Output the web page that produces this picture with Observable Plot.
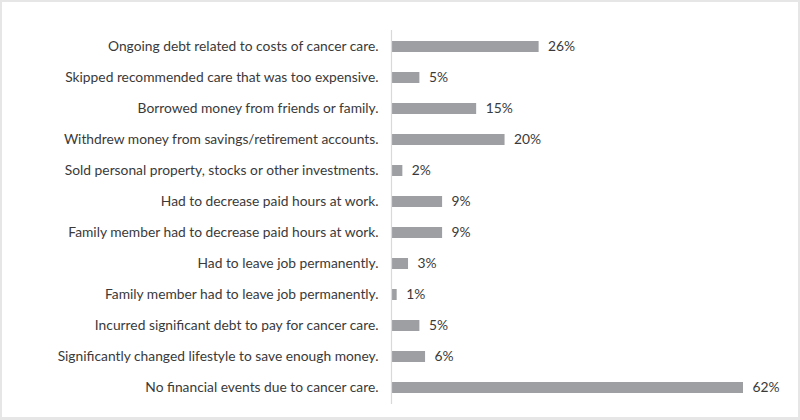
<!DOCTYPE html>
<html>
<head>
<meta charset="utf-8">
<script src="https://cdn.jsdelivr.net/npm/d3@7"></script>
<script src="https://cdn.jsdelivr.net/npm/@observablehq/plot@0.6"></script>
<style>
  html, body { margin: 0; padding: 0; background: #fff; }
  #wrap { position: relative; width: 800px; height: 420px; }
  #border { position: absolute; left: 0; top: 0; width: 800px; height: 420px; box-sizing: border-box; border: 2px solid #e6e6e6; border-bottom-width: 3px; pointer-events: none; }
</style>
</head>
<body>
<div id="wrap"><div id="border"></div></div>
<script>
const categories = [
  "Ongoing debt related to costs of cancer care.",
  "Skipped recommended care that was too expensive.",
  "Borrowed money from friends or family.",
  "Withdrew money from savings/retirement accounts.",
  "Sold personal property, stocks or other investments.",
  "Had to decrease paid hours at work.",
  "Family member had to decrease paid hours at work.",
  "Had to leave job permanently.",
  "Family member had to leave job permanently.",
  "Incurred significant debt to pay for cancer care.",
  "Significantly changed lifestyle to save enough money.",
  "No financial events due to cancer care."
];
const values = [26, 5, 15, 20, 2, 9, 9, 3, 1, 5, 6, 62];

const data = categories.map((c, i) => ({category: c, value: values[i]}));

const chart = Plot.plot({
  width: 800,
  height: 420,
  marginLeft: 391,
  marginRight: 57,
  marginTop: 30,
  marginBottom: 16,
  style: {fontFamily: "Lato, 'Open Sans', sans-serif", fontSize: "13.8px", color: "#3a3a3a", background: "transparent"},
  x: {domain: [0, 62], axis: null},
  y: {domain: categories, padding: 0, label: null},
  marks: [
    Plot.barX(data, {y: "category", x: "value", fill: "#9e9fa2", insetTop: 10, insetBottom: 10}),
    Plot.ruleX([0], {stroke: "#d9d9d9", strokeWidth: 1.2}),
    Plot.text(data, {y: "category", x: "value", text: d => d.value + "%", textAnchor: "start", dx: 9, fill: "#3a3a3a", fontSize: 13.8}),
    Plot.axisY({tickSize: 0, tickPadding: 13, label: null, fontSize: 13.8, fill: "#3a3a3a"})
  ]
});
document.getElementById("wrap").prepend(chart);
</script>
</body>
</html>
